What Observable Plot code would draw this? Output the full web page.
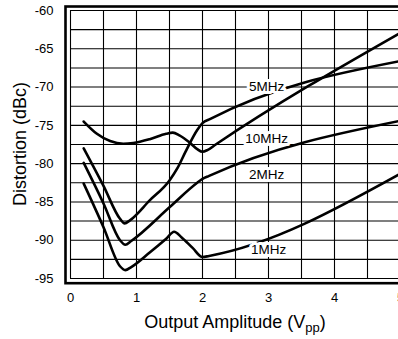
<!DOCTYPE html>
<html><head><meta charset="utf-8">
<script src="https://cdn.jsdelivr.net/npm/d3@7"></script>
<script src="https://cdn.jsdelivr.net/npm/@observablehq/plot@0.6"></script>
<style>
html,body{margin:0;padding:0;background:#fff;}
#chart{width:398px;height:339px;overflow:hidden;}
</style></head><body><div id="chart"></div>
<script>
// Series values (x = output amplitude Vpp, y = distortion dBc)
const seriesNames = ["10MHz", "5MHz", "2MHz", "1MHz"];
const ampA  = [0.2, 0.4, 0.6, 0.8, 0.95, 1.2, 1.45, 1.55, 1.65, 1.8, 1.92, 2.0, 2.08, 2.2, 5.0];
const distA = [-74.5, -76.1, -77.05, -77.4, -77.3, -76.8, -76.1, -75.95, -76.3, -77.2, -78.1, -78.45, -78.2, -77.5, -62.9];
const ampB  = [0.2, 0.5, 0.75, 0.82, 0.9, 1.2, 1.5, 1.62, 1.74, 1.92, 2.0, 2.12, 5.0];
const distB = [-78.0, -82.9, -87.2, -87.8, -87.4, -84.8, -82.2, -80.6, -78.5, -75.6, -74.7, -74.15, -66.6];
const ampC  = [0.2, 0.5, 0.75, 0.83, 0.92, 1.5, 1.92, 2.0, 2.1, 5.0];
const distC = [-79.9, -85.2, -90.0, -90.6, -90.1, -85.7, -82.5, -82.0, -81.6, -74.4];
const ampD  = [0.2, 0.5, 0.75, 0.83, 0.92, 1.2, 1.45, 1.57, 1.68, 1.85, 2.0, 2.1, 5.0];
const distD = [-82.6, -88.3, -93.4, -93.9, -93.5, -91.6, -89.8, -88.9, -89.6, -91.0, -92.2, -92.05, -81.3];

const xTicks = [0, 1, 2, 3, 4, 5];
const yTicks = [-95, -90, -85, -80, -75, -70, -65, -60];
const xGrid = [0, 0.5, 1, 1.5, 2, 2.5, 3, 3.5, 4, 4.5, 5];
const yGrid = [-95, -92.5, -90, -87.5, -85, -82.5, -80, -77.5, -75, -72.5, -70, -67.5, -65, -62.5, -60];

const labelText = ["5MHz", "10MHz", "2MHz", "1MHz"];
const labelX = [2.97, 2.97, 2.97, 3.0];
const labelY = [-70.0, -76.8, -81.5, -91.25];

const xTitle = "Output Amplitude (V";
const xTitleSub = "pp";
const yTitle = "Distortion (dBc)";

// Build table
const ampAll = [ampA, ampB, ampC, ampD];
const distAll = [distA, distB, distC, distD];
const rows = [];
seriesNames.forEach((s, i) => ampAll[i].forEach((a, j) => rows.push({series: s, amp: a, dist: distAll[i][j]})));
const labels = labelText.map((t, i) => ({t, x: labelX[i], y: labelY[i]}));

const font = "'Liberation Sans', Arial, Helvetica, sans-serif";

const plot = Plot.plot({
  width: 398,
  height: 339,
  marginLeft: 70,
  marginTop: 10,
  marginBottom: 61,
  marginRight: 0,
  x: {domain: [0, 5], range: [70, 400]},
  y: {domain: [-95, -60]},
  style: {fontFamily: font, fontSize: "13px", color: "#000", background: "#fff", overflow: "visible"},
  marks: [
    Plot.ruleX(xGrid, {stroke: "#000", strokeWidth: 1.1}),
    Plot.ruleY(yGrid, {stroke: "#000", strokeWidth: 1.1}),
    Plot.frame({stroke: "#000", strokeWidth: 2.6, insetLeft: -5, insetTop: -4, insetBottom: -4.7, insetRight: -12}),
    Plot.axisY({ticks: yTicks, tickSize: 0, tickPadding: 17, tickFormat: d => String(d), label: null, fontSize: 13}),
    Plot.axisX({ticks: xTicks, tickSize: 0, tickPadding: 14, tickFormat: d => String(d), label: null, fontSize: 13}),
    Plot.line(rows, {x: "amp", y: "dist", z: "series", curve: "monotone-x", stroke: "#000", strokeWidth: 2.6}),
    Plot.text(labels, {x: "x", y: "y", text: "t", fontSize: 13.5, fill: "#000", stroke: "#fff", strokeWidth: 6, paintOrder: "stroke", strokeLinejoin: "round"})
  ]
});

document.getElementById("chart").appendChild(plot);

// Axis titles (with subscript) positioned from the plot's scales
const xs = plot.scale("x"), ys = plot.scale("y");
const svg = d3.select(plot);
const xMid = (xs.apply(0) + xs.apply(5)) / 2;
const yMid = (ys.apply(-95) + ys.apply(-60)) / 2;
const tx = svg.append("text")
  .attr("x", xMid).attr("y", ys.apply(-95) + 50)
  .attr("text-anchor", "middle")
  .style("font-family", font).style("font-size", "18px").attr("fill", "#000");
tx.append("tspan").text(xTitle);
tx.append("tspan").attr("dy", 4).style("font-size", "13px").text(xTitleSub);
tx.append("tspan").attr("dy", -4).text(")");
svg.append("text")
  .attr("transform", `translate(${xs.apply(0) - 44},${yMid}) rotate(-90)`)
  .attr("text-anchor", "middle")
  .style("font-family", font).style("font-size", "18px").attr("fill", "#000")
  .text(yTitle);
</script>
</body></html>
